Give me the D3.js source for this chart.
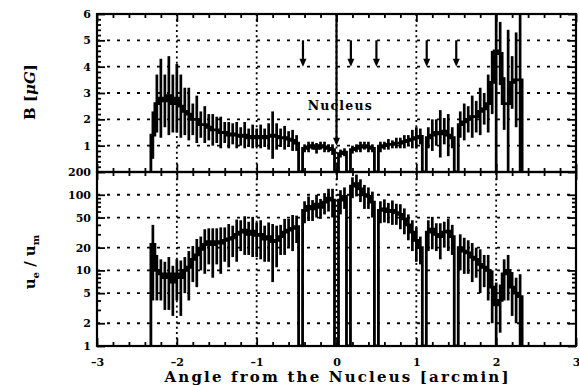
<!DOCTYPE html>
<html>
<head>
<meta charset="utf-8">
<script src="https://cdn.jsdelivr.net/npm/d3@7"></script>
<style>
  body { margin: 0; background: #fff; }
  svg { display: block; }
  .tick text { font-family: "DejaVu Serif", serif; font-weight: bold; font-size: 11px; fill: #000; }
  .domain { display: none; }
</style>
</head>
<body>
<div class="chart"></div>
<script>
// bins along the cut, arcmin from the nucleus
let angles = [-2.30,-2.25,-2.20,-2.15,-2.10,-2.05,-2.00,-1.95,-1.90,-1.85,-1.80,-1.75,-1.70,-1.65,-1.60,-1.55,
  -1.50,-1.45,-1.40,-1.35,-1.30,-1.25,-1.20,-1.15,-1.10,-1.05,-1.00,-0.95,-0.90,-0.85,-0.80,-0.75,-0.70,-0.65,
  -0.60,-0.55,-0.50,-0.45,-0.40,-0.35,-0.30,-0.25,-0.20,-0.15,-0.10,-0.05,0.00,0.05,0.10,0.15,0.20,0.25,0.30,
  0.35,0.40,0.45,0.50,0.55,0.60,0.65,0.70,0.75,0.80,0.85,0.90,0.95,1.00,1.05,1.10,1.15,1.20,1.25,1.30,1.35,
  1.40,1.45,1.50,1.55,1.60,1.65,1.70,1.75,1.80,1.85,1.90,1.95,2.00,2.05,2.10,2.15,2.20,2.25,2.30];

// magnetic field [uG] and its error (0 = masked source)
let bField = [1.4,2.6,2.8,2.7,2.9,2.6,2.8,2.5,2.3,2.2,2.0,2.0,1.8,1.8,1.7,1.6,
  1.6,1.5,1.5,1.4,1.45,1.4,1.35,1.4,1.3,1.35,1.3,1.35,1.3,1.35,1.4,1.35,1.3,1.3,
  1.25,1.2,1.1,0,0.9,0.95,1.0,0.9,1.0,0.95,0.9,0.85,0,0.7,0.75,0,0.85,0.9,0.95,
  1.0,0.95,0.9,0,0.95,1.0,1.05,1.05,1.1,1.1,1.15,1.2,1.25,1.3,1.35,0,1.3,1.4,1.5,1.45,1.55,
  1.4,1.3,0,1.8,1.9,2.0,2.1,2.1,2.3,2.4,2.6,3.4,4.6,4.5,2.6,2.6,3.4,3.5,3.5];
let bErr = [0.9,1.1,1.5,1.0,1.5,1.1,1.3,1.2,0.9,1.0,0.6,0.9,0.5,0.7,0.5,0.6,
  0.5,0.6,0.4,0.5,0.4,0.5,0.35,0.5,0.35,0.45,0.35,0.45,0.35,0.5,0.9,0.5,0.35,0.45,
  0.3,0.4,0.3,0,0.15,0.2,0.15,0.2,0.15,0.2,0.15,0.2,0,0.15,0.15,0,0.15,0.15,0.2,
  0.15,0.2,0.15,0,0.2,0.15,0.2,0.15,0.2,0.2,0.25,0.2,0.35,0.4,0.3,0,0.4,0.6,0.5,0.9,0.5,
  0.8,0.4,0,0.5,0.7,0.5,0.8,0.6,0.9,0.6,1.1,1.2,6,1.2,1.0,2.8,1.0,1.8,6];

// energy density ratio u_e / u_m and its error
let ratio = [22,10,9,8,9,7,9,8,10,11,14,16,19,22,24,22,
  24,23,25,26,27,30,32,34,30,33,29,30,26,28,24,25,28,32,
  34,36,38,0,62,70,65,75,68,80,90,85,0,85,95,0,130,140,120,
  100,95,80,0,62,65,60,62,58,55,48,40,32,25,20,0,32,35,30,28,32,
  33,28,0,20,18,17,15,14,12,11,10,6,3.5,4,9,10,6,5,4.5];
let ratioErr = [18,6,5,5,6,4.5,5,5.5,5,7,7,10,9,13,12,14,
  12,14,12,15,12,17,14,18,14,18,14,16,13,15,17,14,12,16,
  14,18,15,0,20,25,20,25,20,25,30,35,0,30,30,0,40,45,40,
  35,30,30,0,20,22,18,22,18,20,18,15,14,12,8,0,14,16,12,14,12,
  15,12,0,10,9,8,8,6,7,5,6,4,3.4,2.5,5,6,3.5,3,4.4];

let bTicks = [1, 2, 3, 4, 5, 6];
let ratioTicks = [1, 2, 5, 10, 20, 50, 100, 200];
let angleTicks = [-3, -2, -1, 0, 1, 2, 3];
let sourceAngles = [-0.42, 0.18, 0.5, 1.13, 1.5];

let W = 579, H = 385;
let xL = 97, xR = 576, yTop = 14, yMid = 172, yBot = 346;
let halfBin = 0.025;

let svg = d3.select('.chart').append('svg')
  .attr('width', W).attr('height', H);

let x = d3.scaleLinear().domain([-3, 3]).range([xL, xR]);
let yB = d3.scaleLinear().domain([0, 6]).range([yMid, yTop]);
let yU = d3.scaleLog().domain([1, 200]).range([yBot, yMid]);
let uPos = v => v >= 1 ? yU(Math.min(v, 200)) : yBot;

let data = angles.map((a, i) => ({ a: a, b: bField[i], be: bErr[i], u: ratio[i], ue: ratioErr[i] }));

// clip regions for each panel
let defs = svg.append('defs');
defs.append('clipPath').attr('id', 'clipTop').append('rect')
  .attr('x', xL).attr('y', yTop).attr('width', xR - xL).attr('height', yMid - yTop);
defs.append('clipPath').attr('id', 'clipBot').append('rect')
  .attr('x', xL).attr('y', yMid).attr('width', xR - xL).attr('height', yBot - yMid);

// --> dotted grid
let grid = svg.append('g').attr('stroke', '#000').attr('stroke-width', 1.8);
grid.selectAll('.hb').data(bTicks.slice(0, 5)).enter().append('line')
  .attr('x1', xL).attr('x2', xR).attr('y1', d => yB(d)).attr('y2', d => yB(d))
  .attr('stroke-dasharray', '3,7');
grid.selectAll('.hu').data([2, 5, 10, 20, 50, 100]).enter().append('line')
  .attr('x1', xL).attr('x2', xR).attr('y1', d => yU(d)).attr('y2', d => yU(d))
  .attr('stroke-dasharray', '3,7');
grid.selectAll('.vx').data(angleTicks.slice(1, 6)).enter().append('line')
  .attr('x1', d => x(d)).attr('x2', d => x(d)).attr('y1', yTop).attr('y2', yBot)
  .attr('stroke-dasharray', '2,3.3');

// --> step outline of the profile
function stepPoints(key) {
  let pts = [{ x: data[0].a - halfBin, v: 0 }];
  data.forEach(d => pts.push({ x: d.a - halfBin, v: d[key] }));
  let last = data[data.length - 1];
  pts.push({ x: last.a + halfBin, v: last[key] });
  pts.push({ x: last.a + halfBin, v: 0 });
  return pts;
}

let topG = svg.append('g').attr('clip-path', 'url(#clipTop)');
let botG = svg.append('g').attr('clip-path', 'url(#clipBot)');

topG.append('path')
  .attr('d', d3.line().curve(d3.curveStepAfter).x(d => x(d.x)).y(d => yB(d.v))(stepPoints('b')))
  .attr('fill', 'none').attr('stroke', '#000').attr('stroke-width', 2.8);
botG.append('path')
  .attr('d', d3.line().curve(d3.curveStepAfter).x(d => x(d.x)).y(d => uPos(d.v))(stepPoints('u')))
  .attr('fill', 'none').attr('stroke', '#000').attr('stroke-width', 2.8);

// --> error bars
topG.selectAll('.eb').data(data.filter(d => d.b > 0)).enter().append('line')
  .attr('x1', d => x(d.a)).attr('x2', d => x(d.a))
  .attr('y1', d => yB(Math.max(d.b - d.be, 0))).attr('y2', d => yB(d.b + d.be))
  .attr('stroke', '#000').attr('stroke-width', 2.7);
botG.selectAll('.eu').data(data.filter(d => d.u > 0)).enter().append('line')
  .attr('x1', d => x(d.a)).attr('x2', d => x(d.a))
  .attr('y1', d => uPos(d.u - d.ue)).attr('y2', d => uPos(d.u + d.ue))
  .attr('stroke', '#000').attr('stroke-width', 2.7);

// --> arrows for the masked sources and the nucleus
let arrows = svg.append('g');
function arrow(a, b0, b1) {
  let px = x(a), y0 = yB(b0), y1 = yB(b1);
  arrows.append('line').attr('x1', px).attr('x2', px).attr('y1', y0).attr('y2', y1 - 5)
    .attr('stroke', '#000').attr('stroke-width', 2.2);
  arrows.append('path')
    .attr('d', `M${px - 3.5},${y1 - 8} L${px + 3.5},${y1 - 8} L${px},${y1} Z`)
    .attr('fill', '#000');
}
sourceAngles.forEach(a => arrow(a, 5.0, 4.0));
arrow(0, 6, 1.0);

svg.append('text')
  .attr('x', x(0.04)).attr('y', yB(2.35))
  .attr('text-anchor', 'middle')
  .style('font-family', '"DejaVu Serif", serif').style('font-weight', 'bold').style('font-size', '12.5px')
  .attr('textLength', 64)
  .text('Nucleus');

// --> axes, all ticks pointing inwards
function fmtInt(d) { return d < 0 ? '\u2013' + Math.abs(d) : String(d); }
let minorX = d3.range(-30, 31, 2).map(d => d / 10).filter(d => Math.abs(d % 1) > 0.01);
let minorB = d3.range(0, 61, 2).map(d => d / 10).filter(d => Math.abs(d % 1) > 0.01);
let minorU = [3, 4, 6, 7, 8, 9, 30, 40, 60, 70, 80, 90];

function addAxis(axis, tx, ty) {
  return svg.append('g').attr('transform', `translate(${tx},${ty})`).call(axis);
}

[[yTop, d3.axisTop], [yMid, d3.axisBottom], [yMid, d3.axisTop], [yBot, d3.axisBottom]].forEach(([yy, fn], k) => {
  addAxis(fn(x).tickValues(angleTicks).tickSize(-8).tickPadding(12).tickFormat(k === 3 ? fmtInt : ''), 0, yy);
  addAxis(fn(x).tickValues(minorX).tickSize(-4).tickFormat(''), 0, yy);
});

addAxis(d3.axisLeft(yB).tickValues(bTicks).tickSize(-8).tickPadding(6).tickFormat(d3.format('d')), xL, 0);
addAxis(d3.axisLeft(yB).tickValues(minorB).tickSize(-4).tickFormat(''), xL, 0);
addAxis(d3.axisRight(yB).tickValues(bTicks).tickSize(-8).tickFormat(''), xR, 0);
addAxis(d3.axisRight(yB).tickValues(minorB).tickSize(-4).tickFormat(''), xR, 0);

addAxis(d3.axisLeft(yU).tickValues(ratioTicks).tickSize(-8).tickPadding(6).tickFormat(d3.format('d')), xL, 0);
addAxis(d3.axisLeft(yU).tickValues(minorU).tickSize(-4).tickFormat(''), xL, 0);
addAxis(d3.axisRight(yU).tickValues(ratioTicks).tickSize(-8).tickFormat(''), xR, 0);
addAxis(d3.axisRight(yU).tickValues(minorU).tickSize(-4).tickFormat(''), xR, 0);

svg.selectAll('.tick line').attr('stroke', '#000').attr('stroke-width', 1.8);
svg.selectAll('.tick text').attr('fill', '#000');

// frames
[[yTop, yMid], [yMid, yBot]].forEach(([y0, y1]) => {
  svg.append('rect').attr('x', xL).attr('y', y0).attr('width', xR - xL).attr('height', y1 - y0)
    .attr('fill', 'none').attr('stroke', '#000').attr('stroke-width', 2.2);
});

// --> titles
let font = s => s.style('font-family', '"DejaVu Serif", serif').style('font-weight', 'bold');
font(svg.append('text'))
  .attr('x', x(0)).attr('y', 382).attr('text-anchor', 'middle')
  .style('font-size', '15px').attr('textLength', 344)
  .text('Angle from the Nucleus [arcmin]');

let bt = font(svg.append('text'))
  .attr('transform', 'translate(35,92) rotate(-90)').attr('text-anchor', 'middle')
  .style('font-size', '15px');
bt.append('tspan').text('B [');
bt.append('tspan').style('font-style', 'italic').text('\u03bcG');
bt.append('tspan').text(']');

let ut = font(svg.append('text'))
  .attr('transform', 'translate(35,262) rotate(-90)').attr('text-anchor', 'middle')
  .style('font-size', '15px');
ut.append('tspan').text('u');
ut.append('tspan').attr('dy', 4).style('font-size', '10px').text('e');
ut.append('tspan').attr('dy', -4).text(' / u');
ut.append('tspan').attr('dy', 4).style('font-size', '10px').text('m');
</script>
</body>
</html>
